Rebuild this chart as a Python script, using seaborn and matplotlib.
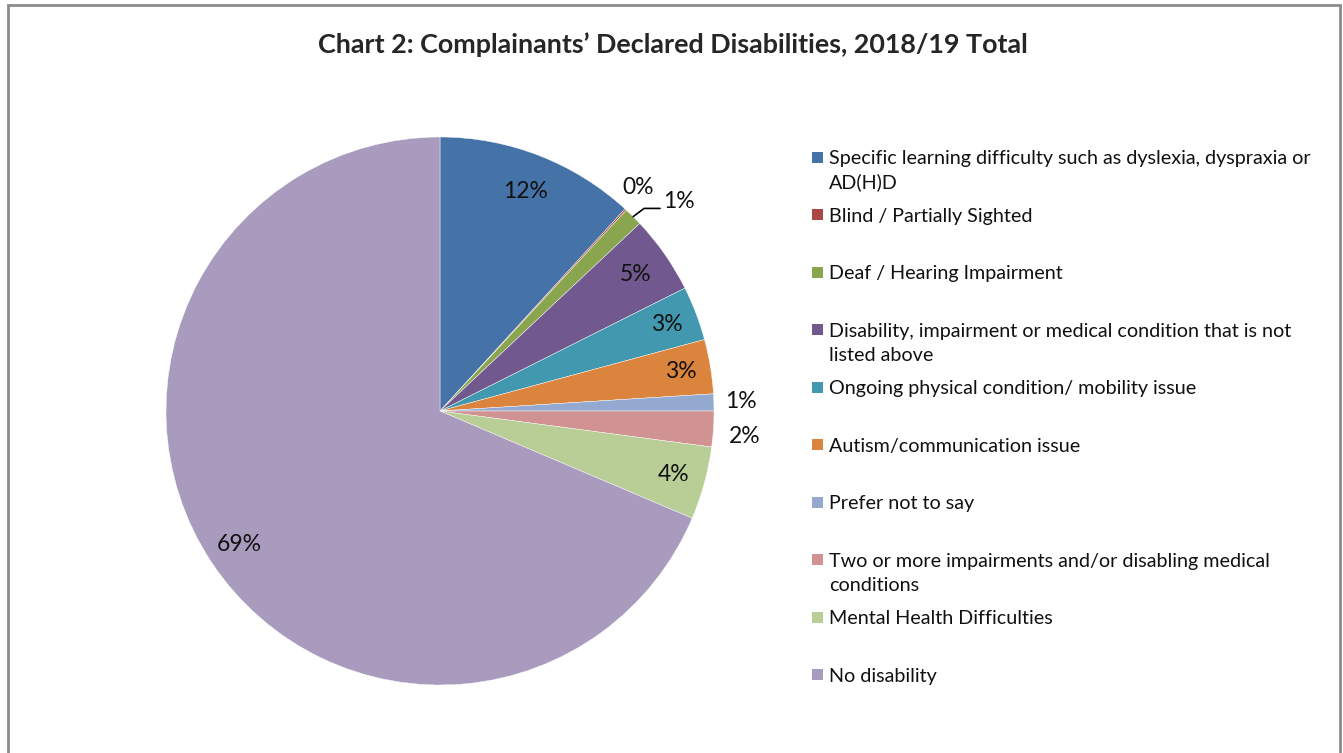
import numpy as np
import matplotlib.pyplot as plt
import seaborn as sns
from matplotlib.patches import Rectangle
from matplotlib.lines import Line2D

sns.set_style("white")
plt.rcParams['font.family'] = ['Lato', 'DejaVu Sans']

# data (percent of complainants)
categories = [
    "Specific learning difficulty such as dyslexia, dyspraxia or\nAD(H)D",
    "Blind / Partially Sighted",
    "Deaf / Hearing Impairment",
    "Disability, impairment or medical condition that is not\nlisted above",
    "Ongoing physical condition/ mobility issue",
    "Autism/communication issue",
    "Prefer not to say",
    "Two or more impairments and/or disabling medical\nconditions",
    "Mental Health Difficulties",
    "No disability",
]
shares = [11.8, 0.1, 1.1, 4.6, 3.2, 3.2, 1.0, 2.1, 4.3, 68.6]
colors = ["#4572A7", "#AA4643", "#89A54E", "#71588F", "#4198AF",
          "#DB843D", "#93A9CF", "#D19392", "#B9CD96", "#A99BBD"]

W, H = 1343, 753
fig = plt.figure(figsize=(W / 100, H / 100), dpi=100)

# pie centre (440, 411) px, radius 274 px
cx, cy, R = 440, 411, 274
ax = fig.add_axes([(cx - R) / W, (H - cy - R) / H, 2 * R / W, 2 * R / H])
wedges, _ = ax.pie(shares, colors=colors, startangle=90, counterclock=False,
                   radius=1.0, wedgeprops=dict(edgecolor="white", linewidth=0.3))
ax.set_xlim(-1, 1)
ax.set_ylim(-1, 1)
ax.axis("off")

# label placement: radius factor and angle nudge (deg) per slice
lab_r = [0.86, 1.09, 1.16, 0.87, 0.885, 0.89, 1.10, 1.115, 0.885, 0.88]
lab_da = [0, 1, -4, 0, 0, 0, 0, -1, 0, 0]
for i, w in enumerate(wedges):
    mid = np.deg2rad((w.theta1 + w.theta2) / 2 + lab_da[i])
    x, y = lab_r[i] * np.cos(mid), lab_r[i] * np.sin(mid)
    ha = "center"
    if i == 2:
        # leader line for the tiny green slice
        m0 = np.deg2rad((w.theta1 + w.theta2) / 2)
        ax.add_line(Line2D([np.cos(m0), 1.0 * np.cos(m0) + 0.04, x - 0.07],
                           [np.sin(m0), np.sin(m0) + 0.03, np.sin(m0) + 0.03],
                           color="black", lw=1.2, clip_on=False))
        ha = "left"
        x = x - 0.06
        y = np.sin(m0) + 0.055
    ax.text(x, y, f"{shares[i]:.0f}%", ha=ha, va="center", fontsize=16.5,
            color="#111111", clip_on=False)

# title
fig.text(673 / W, 1 - 45 / H, "Chart 2: Complainants’ Declared Disabilities, 2018/19 Total",
         ha="center", va="center", fontsize=19.4, fontweight="bold")

# legend, evenly spaced like the original
lx, ty, step, lstep = 812, 157, 57.55, 24
for i, (lab, col) in enumerate(zip(categories, colors)):
    yc = ty + i * step
    fig.add_artist(Rectangle((lx / W, 1 - (yc + 5.5) / H), 11 / W, 11 / H,
                             facecolor=col, edgecolor="none"))
    for j, line in enumerate(lab.split("\n")):
        fig.text(829 / W, 1 - (yc + j * lstep) / H, line, ha="left",
                 va="center_baseline", fontsize=14.2, color="#111111")

# outer frame
fig.add_artist(Rectangle((8 / W, -0.05), (1340 - 8) / W, 1.05 - 5 / H,
                         fill=False, edgecolor="#8c8c8c", linewidth=2))

fig.savefig("out.png", dpi=100)
